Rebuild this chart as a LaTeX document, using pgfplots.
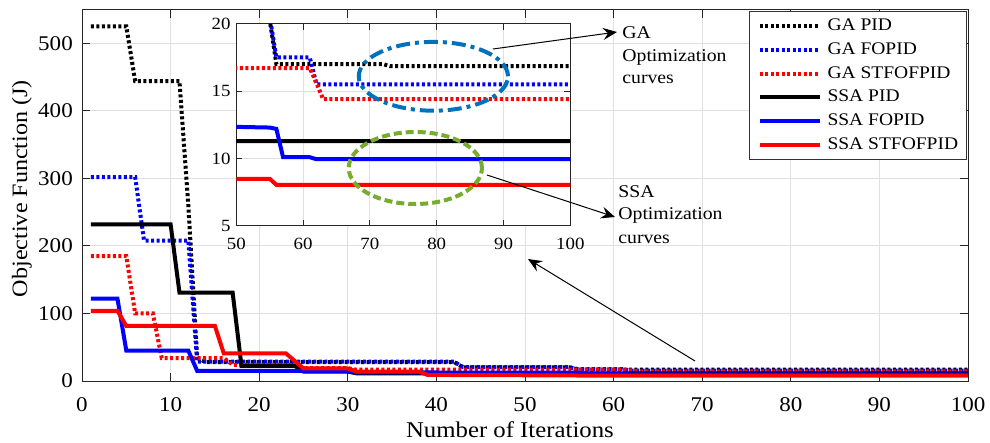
\documentclass[border=0pt]{standalone}
\usepackage{fontspec}
\setmainfont{Liberation Serif}[FakeStretch=1.1]
\usepackage{pgfplots}
\usepackage{pgfplotstable}
\pgfplotsset{compat=1.18}
\usetikzlibrary{arrows.meta}

\definecolor{ellblue}{rgb}{0,0.447,0.741}
\definecolor{ellgreen}{rgb}{0.466,0.674,0.188}

\pgfplotstableread{
x y
1 525
5 525
6 444
11 444
12 260
13 34
14 28
42 28
43 20.3
55 20.3
56 17.0
72 17.0
73 16.85
100 16.85
}\gapid
\pgfplotstableread{
x y
1 302
6 302
7 208
12 208
13 28.5
42 28.5
43 20.5
55 20.5
56 17.5
61 17.5
62 15.5
100 15.5
}\gafopid
\pgfplotstableread{
x y
1 185
5 185
6 100
8 100
9 34
16 34
17 24
24 24
25 19
30 19
31 16.7
61 16.7
62 15.6
63 14.4
100 14.4
}\gastf
\pgfplotstableread{
x y
1 232
10 232
11 131
17 131
18 22.5
24 22.5
25 14
30 14
31 11.3
100 11.3
}\ssapid
\pgfplotstableread{
x y
1 122
4 122
5 45
12 45
13 15
30 15
31 12.8
50 12.35
55 12.3
56 12.2
57 10.1
61 10.1
62 9.95
100 9.95
}\ssafopid
\pgfplotstableread{
x y
1 104
4 104
5 81.5
15 81.5
16 41
23 41
25 18.6
30 18.6
31 14
38 14
39 9
50 8.5
55 8.5
56 8.05
100 8.05
}\ssastf

\pgfplotsset{
  dotl/.style={line width=2bp, dash pattern=on 1.5bp off 1.25bp},
  soll/.style={line width=2bp},
}

\begin{document}
\begin{tikzpicture}
\path[use as bounding box] (-41bp,-31bp) rectangle (454bp,190.5bp);
\begin{axis}[
  at={(0,0)}, anchor=south west,
  scale only axis, width=443bp, height=185.75bp,
  xmin=0, xmax=100, ymin=0, ymax=550,
  xtick={0,10,...,100}, ytick={0,100,...,500},
  tick align=inside, tick pos=both,
  major tick length=4bp,
  grid=major, grid style={black!12, line width=0.5bp},
  axis line style={black!85, line width=0.5bp},
  every tick/.style={black!85, line width=0.5bp},
  /pgf/number format/assume math mode=true,
  ticklabel style={font=\fontsize{10.5}{12}\selectfont},
  xticklabel style={yshift=-5bp},
  yticklabel style={xshift=-1.1bp},
  xlabel={Number of Iterations}, ylabel={Objective Function (J)},
  xlabel style={font=\fontsize{11.3}{13}\selectfont, at={(axis description cs:0.483,-0.153)}, anchor=base},
  ylabel style={font=\fontsize{11}{13}\selectfont, at={(axis description cs:-0.068,0.518)}, anchor=center},
  legend style={at={(axis description cs:0.9985,0.996)}, anchor=north east,
    font=\fontsize{8.9}{10.5}\selectfont, draw=black!80, line width=0.5bp, fill=white,
    inner xsep=4bp, inner ysep=3.5bp, row sep=3.83bp, column sep=2.8bp,
    nodes={inner sep=0pt, text height=6.2bp, text depth=1.8bp}},
  legend cell align=left,
  legend image code/.code={\draw[#1] (0bp,0bp) -- (30bp,0bp);},
]
\addplot[black, dotl] table {\gapid};
\addplot[blue, dotl] table {\gafopid};
\addplot[red, dotl] table {\gastf};
\addplot[black, soll] table {\ssapid};
\addplot[blue, soll] table {\ssafopid};
\addplot[red, soll] table {\ssastf};
\legend{GA PID, GA FOPID, GA STFOFPID, SSA PID, SSA FOPID, SSA STFOFPID}
\end{axis}

\begin{axis}[
  at={(77.15bp,77.5bp)}, anchor=south west,
  scale only axis, width=167bp, height=101.15bp,
  xmin=50, xmax=100, ymin=5, ymax=20,
  xtick={50,60,...,100}, ytick={5,10,15,20},
  tick align=inside, tick pos=both,
  major tick length=3bp,
  grid=major, grid style={black!12, line width=0.5bp},
  axis line style={black!85, line width=0.5bp},
  every tick/.style={black!85, line width=0.5bp},
  axis background/.style={fill=white},
  /pgf/number format/assume math mode=true,
  ticklabel style={font=\fontsize{8.6}{10}\selectfont},
  yticklabel style={xshift=0.6bp},
  xticklabel style={yshift=-2.6bp},
  clip=true,
]
\addplot[black, dotl] table {\gapid};
\addplot[blue, dotl] table {\gafopid};
\addplot[red, dotl] table {\gastf};
\addplot[black, soll] table {\ssapid};
\addplot[blue, soll] table {\ssafopid};
\addplot[red, soll] table {\ssastf};
\draw[ellblue, line width=2bp, dash pattern=on 7bp off 2.5bp on 2bp off 2.5bp]
  (axis cs:79.5,16.1) ellipse [x radius=37.3bp, y radius=17.2bp];
\draw[ellgreen, line width=2bp, dash pattern=on 4bp off 2bp]
  (axis cs:76.8,9.3) ellipse [x radius=33.3bp, y radius=18bp];
\end{axis}

% annotations (bp relative to main axis origin)
\draw[line width=0.5bp, -{Stealth[length=7bp,width=6bp,inset=2.5bp]}] (205.5bp,166bp) -- (267.5bp,174.5bp);
\draw[line width=0.5bp, -{Stealth[length=7bp,width=6bp,inset=2.5bp]}] (202.5bp,103bp) -- (266.5bp,82bp);
\draw[line width=0.5bp, -{Stealth[length=7bp,width=6bp,inset=2.5bp]}] (306.5bp,10bp) -- (223bp,61bp);
\begin{scope}[every node/.style={inner sep=0pt, font=\fontsize{9}{11}\selectfont}]
\node[anchor=base west] at (270bp,171.25bp) {GA};
\node[anchor=base west] at (270bp,159.6bp) {Optimization};
\node[anchor=base west] at (270bp,148.8bp) {curves};
\node[anchor=base west] at (268bp,91.85bp) {SSA};
\node[anchor=base west] at (268bp,80.5bp) {Optimization};
\node[anchor=base west] at (268bp,68.85bp) {curves};
\end{scope}
\end{tikzpicture}
\end{document}
